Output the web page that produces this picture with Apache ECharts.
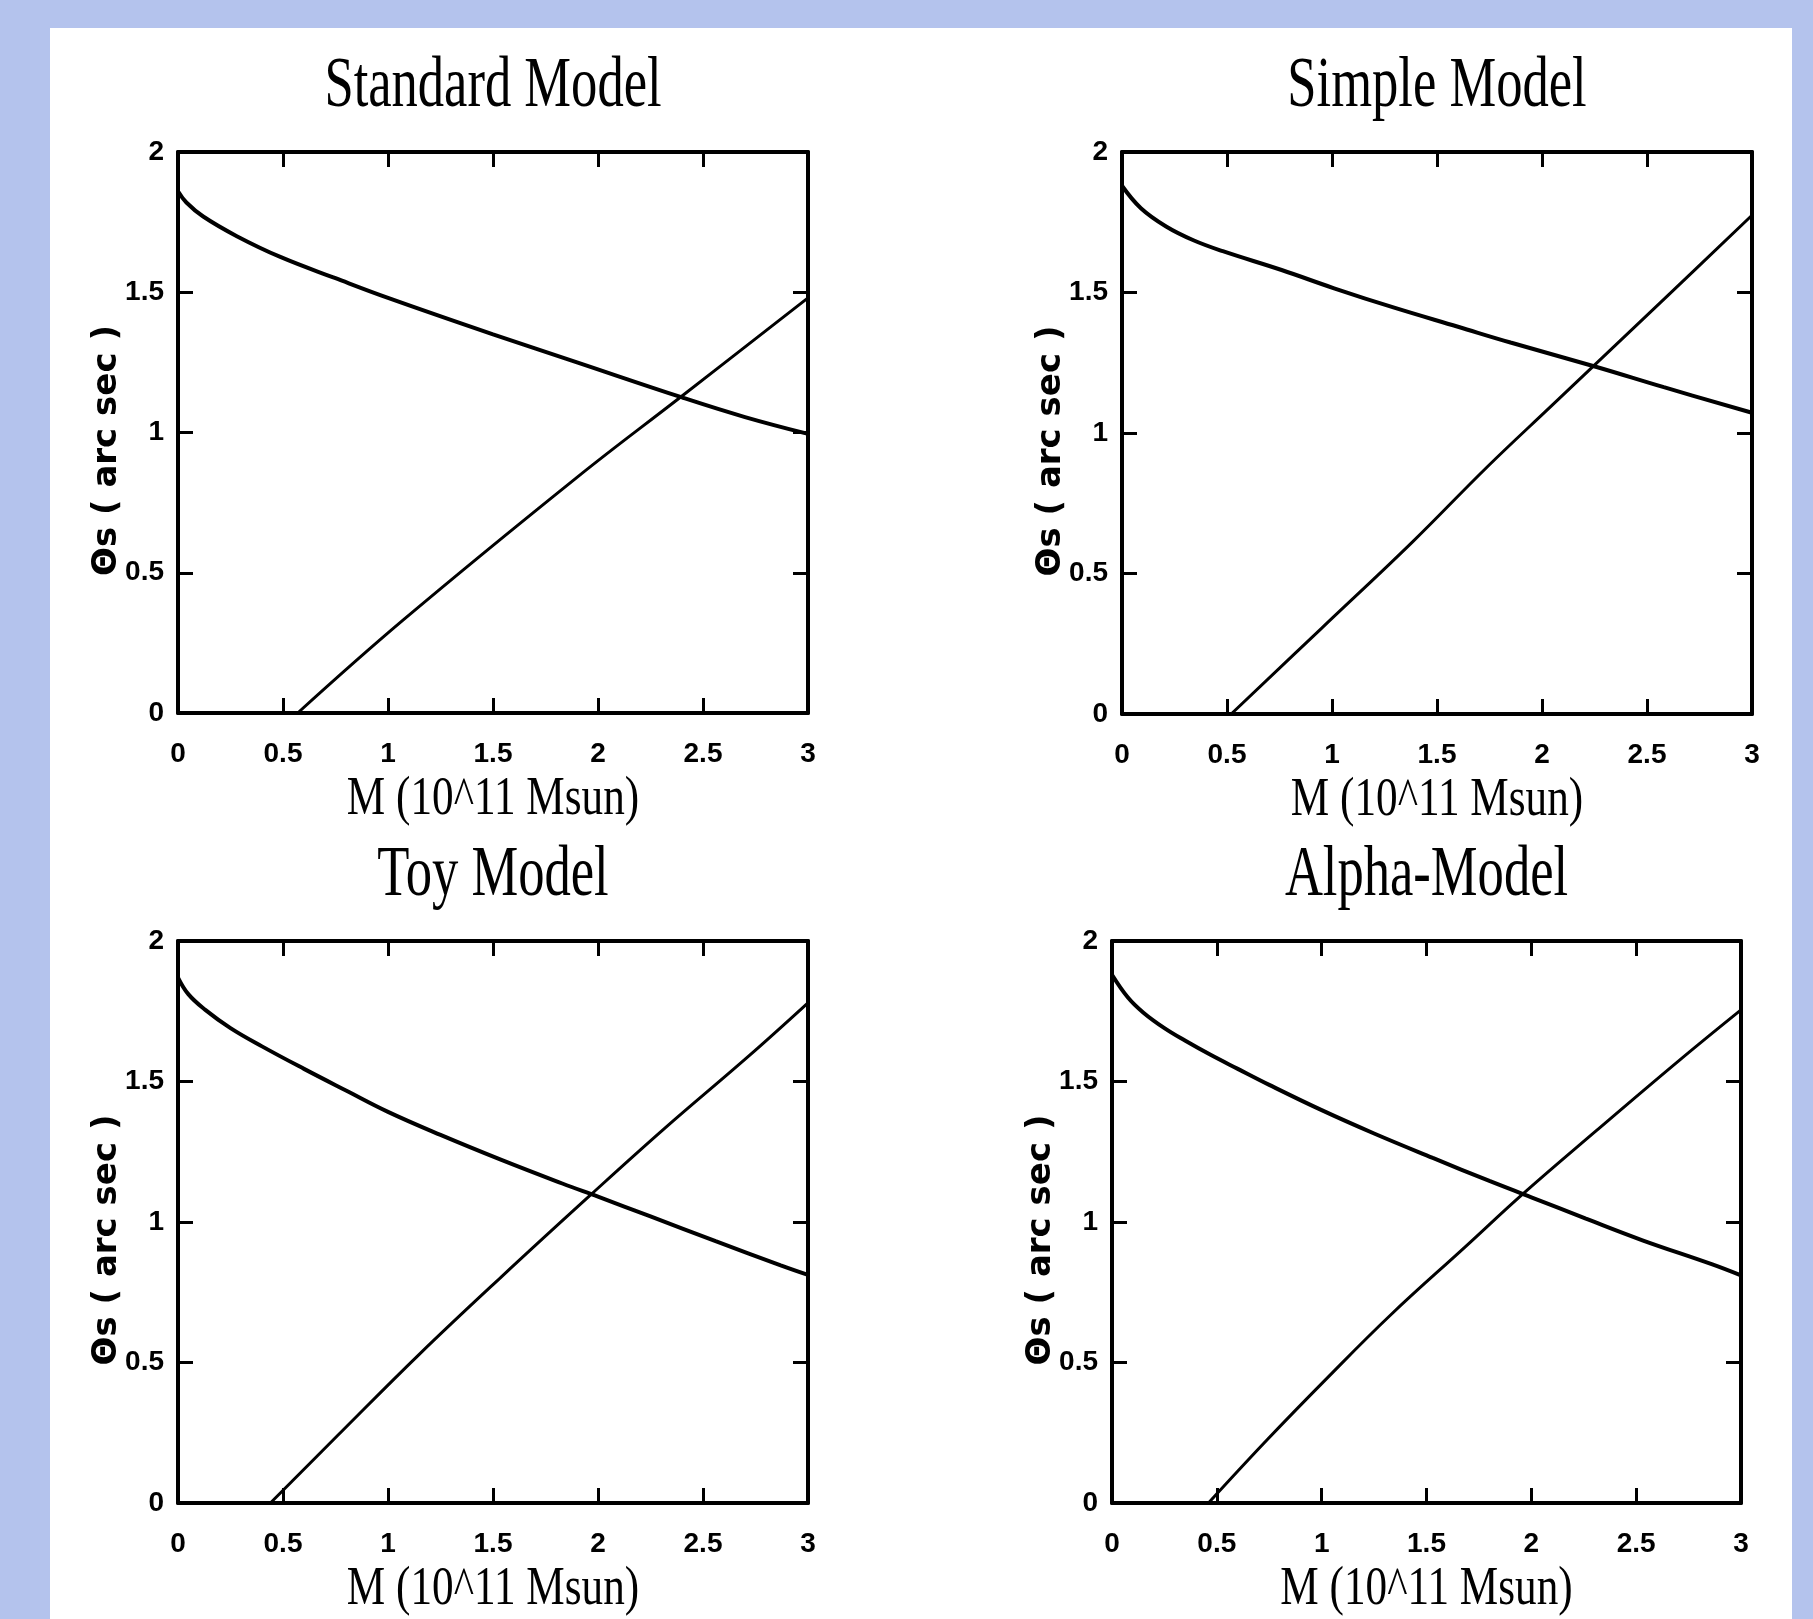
<!DOCTYPE html>
<html>
<head>
<meta charset="utf-8">
<title>Theta_s vs M</title>
<script src="https://cdn.jsdelivr.net/npm/echarts@6/dist/echarts.min.js"></script>
<style>
  html, body { margin: 0; padding: 0; background: #b4c3ed; }
  #chart { width: 1813px; height: 1619px; }
</style>
</head>
<body>
<div id="chart"></div>
<script>
// text
const panelTitles = ['Standard Model', 'Simple Model', 'Toy Model', 'Alpha-Model'];
const xAxisTitle = 'M (10^11 Msun)';
const yAxisTitle = 'Θs ( arc sec )';
const xTickLabels = ['0', '0.5', '1', '1.5', '2', '2.5', '3'];
const yTickLabels = ['0', '0.5', '1', '1.5', '2'];

// [M, theta]
const standardCurve = [[0, 1.86], [0.04, 1.82], [0.12, 1.77], [0.28, 1.70], [0.49, 1.625], [0.75, 1.55],
  [1.0, 1.48], [1.5, 1.35], [1.9, 1.25], [2.4, 1.125], [2.7, 1.055], [3, 0.995]];
const standardLine = [[0.57, 0], [1.07, 0.33], [1.9, 0.84], [2.4, 1.13], [3, 1.48]];

const simpleCurve = [[0, 1.88], [0.09, 1.80], [0.21, 1.735], [0.34, 1.686], [0.48, 1.647], [0.76, 1.58],
  [1.01, 1.515], [1.3, 1.445], [1.6, 1.378], [1.85, 1.322], [2.26, 1.235], [2.58, 1.163], [3, 1.072]];
const simpleLine = [[0.52, 0], [0.95, 0.305], [1.38, 0.61], [1.74, 0.88], [2.05, 1.1], [2.6, 1.49], [3, 1.775]];

const toyCurve = [[0, 1.87], [0.05, 1.81], [0.13, 1.755], [0.25, 1.69], [0.4, 1.625], [0.6, 1.545],
  [0.8, 1.468], [1.0, 1.392], [1.25, 1.31], [1.54, 1.221], [1.83, 1.137], [2.0, 1.09], [2.25, 1.02],
  [2.56, 0.932], [2.87, 0.846], [3, 0.812]];
const toyLine = [[0.44, 0], [0.76, 0.24], [1.15, 0.53], [1.54, 0.805], [1.97, 1.10], [2.32, 1.335], [2.72, 1.592], [3, 1.78]];

const alphaCurve = [[0, 1.88], [0.075, 1.80], [0.15, 1.745], [0.25, 1.69], [0.35, 1.645], [0.47, 1.595],
  [0.6, 1.545], [0.75, 1.488], [1.0, 1.398], [1.25, 1.315], [1.53, 1.228], [1.8, 1.146], [2.0, 1.088],
  [2.26, 1.012], [2.53, 0.935], [2.86, 0.85], [3, 0.81]];
const alphaLine = [[0.46, 0], [0.74, 0.225], [1.02, 0.44], [1.33, 0.67], [1.69, 0.915], [1.96, 1.10],
  [2.31, 1.325], [2.71, 1.578], [3, 1.755]];

const curves = [standardCurve, simpleCurve, toyCurve, alphaCurve];
const lines = [standardLine, simpleLine, toyLine, alphaLine];

// plot boxes
const grids = [
  { left: 178, top: 152, width: 630, height: 561 },
  { left: 1122, top: 152, width: 630, height: 562 },
  { left: 178, top: 941, width: 630, height: 562 },
  { left: 1112, top: 941, width: 629, height: 562 }
];

const chart = echarts.init(document.getElementById('chart'));

const axisLine = { show: true, onZero: false, lineStyle: { color: '#000', width: 4 } };
const axisTick = { show: true, inside: true, length: 15, lineStyle: { color: '#000', width: 3 } };
const tickFont = { color: '#000', fontFamily: 'Liberation Sans', fontWeight: 'bold', fontSize: 28 };

const xAxis = [];
const yAxis = [];
const series = [];
const graphic = [{
  type: 'rect', z: -100,
  shape: { x: 50, y: 28, width: 1742, height: 1600 },
  style: { fill: '#fff' }
}];

grids.forEach((g, i) => {
  const cx = g.left + g.width / 2;
  const cy = g.top + g.height / 2;

  xAxis.push({
    gridIndex: i, type: 'value', position: 'bottom', min: 0, max: 3, interval: 0.5,
    axisLine, axisTick, splitLine: { show: false },
    axisLabel: Object.assign({ margin: 27, formatter: v => xTickLabels[Math.round(v / 0.5)] }, tickFont)
  });
  xAxis.push({
    gridIndex: i, type: 'value', position: 'top', min: 0, max: 3, interval: 0.5,
    axisLine, axisTick, splitLine: { show: false }, axisLabel: { show: false }
  });
  yAxis.push({
    gridIndex: i, type: 'value', position: 'left', min: 0, max: 2, interval: 0.5,
    axisLine, axisTick, splitLine: { show: false },
    axisLabel: Object.assign({ margin: 14, formatter: v => yTickLabels[Math.round(v / 0.5)] }, tickFont)
  });
  yAxis.push({
    gridIndex: i, type: 'value', position: 'right', min: 0, max: 2, interval: 0.5,
    axisLine, axisTick, splitLine: { show: false }, axisLabel: { show: false }
  });

  series.push({
    name: panelTitles[i] + ' curve', type: 'line', xAxisIndex: 2 * i, yAxisIndex: 2 * i,
    data: curves[i], showSymbol: false, smooth: 0.4, lineStyle: { color: '#000', width: 4 }, z: 3
  });
  series.push({
    name: panelTitles[i] + ' line', type: 'line', xAxisIndex: 2 * i, yAxisIndex: 2 * i,
    data: lines[i], showSymbol: false, smooth: 0.4, lineStyle: { color: '#000', width: 3 }, z: 3
  });

  // panel title, squeezed like the original
  graphic.push({
    type: 'text', x: cx, y: g.top - 65, scaleX: 0.73,
    style: { text: panelTitles[i], fontFamily: 'Liberation Serif', fontSize: 72, fill: '#000',
      align: 'center', verticalAlign: 'middle' }
  });
  // x axis title
  graphic.push({
    type: 'text', x: cx, y: g.top + g.height + 87, scaleX: 0.8,
    style: { text: xAxisTitle, fontFamily: 'Liberation Serif', fontSize: 54, fill: '#000',
      align: 'center', verticalAlign: 'middle' }
  });
  // y axis title
  graphic.push({
    type: 'text', x: g.left - 71, y: cy + 18, rotation: Math.PI / 2,
    style: { text: yAxisTitle, fontFamily: 'DejaVu Sans', fontWeight: 'bold', fontSize: 34, fill: '#000',
      align: 'center', verticalAlign: 'middle' }
  });
});

chart.setOption({
  backgroundColor: '#b4c3ed',
  animation: false,
  grid: grids,
  xAxis,
  yAxis,
  series,
  graphic
});

window.addEventListener('resize', () => chart.resize());
</script>
</body>
</html>
